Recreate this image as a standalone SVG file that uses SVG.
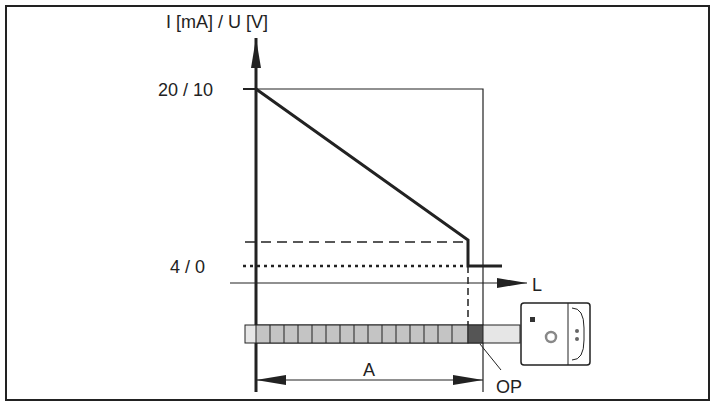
<svg xmlns="http://www.w3.org/2000/svg" width="715" height="403" viewBox="0 0 715 403">
<style>text{font-family:"Liberation Sans",Arial,sans-serif;font-size:18px;fill:#222}.l{stroke:#222;fill:none}</style>
<defs><marker id="big" viewBox="0 0 30 10" refX="30" refY="5" markerWidth="30" markerHeight="10" orient="auto-start-reverse" markerUnits="userSpaceOnUse"><path d="M0,0L30,5L0,10z" fill="#222"/></marker></defs>
<rect x="6" y="6" width="703" height="394" class="l" stroke-width="2"/>
<g id="axes">
<line x1="256" y1="392" x2="256" y2="38" class="l" stroke-width="3" marker-end="url(#big)"/>
<line x1="230" y1="283" x2="527" y2="283" class="l" stroke-width="1.2" marker-end="url(#big)"/>
<text x="166" y="28">I [mA] / U [V]</text>
<text x="158" y="96">20 / 10</text>
<text x="170" y="273">4 / 0</text>
<text x="532" y="291">L</text>
<line x1="243" y1="89" x2="256" y2="89" class="l" stroke-width="2"/>
</g>
<g id="curves">
<polyline points="256,89 483,89 483,392" class="l" stroke-width="1.2"/>
<polyline points="256,89 468,240 468,266 502,266" class="l" stroke-width="3"/>
<line x1="245" y1="242" x2="468" y2="242" class="l" stroke-width="1.5" stroke-dasharray="10,6"/>
<line x1="243" y1="266" x2="468" y2="266" class="l" stroke-width="2.5" stroke-dasharray="3,4"/>
<line x1="468" y1="266" x2="468" y2="325" class="l" stroke-width="1.5" stroke-dasharray="7,4"/>
</g>
<g id="bar">
<rect x="245" y="325" width="275" height="18" fill="#e6e6e6" stroke="#222"/>
<rect x="256" y="325" width="212" height="18" fill="#c4c4c4" stroke="#222"/>
<path d="M270,325v18M284,325v18M298,325v18M312,325v18M326,325v18M340,325v18M354,325v18M368,325v18M382,325v18M396,325v18M410,325v18M424,325v18M438,325v18M452,325v18" class="l"/>
<rect x="468" y="325" width="15" height="18" fill="#555" stroke="#222"/>
</g>
<g id="sensor">
<rect x="521" y="303" width="69" height="62" rx="3" fill="#fff" stroke="#222" stroke-width="1.5"/>
<line x1="568" y1="303" x2="568" y2="365" class="l"/>
<path d="M572,308q12,0 12,20v12q0,20-12,20" class="l"/>
<rect x="530" y="317" width="5" height="5" fill="#333"/>
<circle cx="551" cy="337" r="5" fill="none" stroke="#888" stroke-width="2.5"/>
<circle cx="577" cy="331" r="2" fill="#666"/><circle cx="577" cy="339" r="2" fill="#666"/>
</g>
<g id="dim">
<line x1="256" y1="380" x2="483" y2="380" class="l" stroke-width="1.2" marker-start="url(#big)" marker-end="url(#big)"/>
<text x="363" y="376">A</text>
<line x1="480" y1="344" x2="501" y2="370" class="l"/>
<text x="496" y="393">OP</text>
</g>
</svg>
